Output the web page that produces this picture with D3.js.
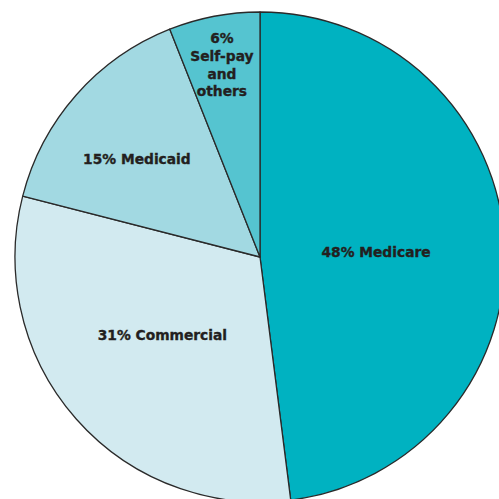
<!DOCTYPE html>
<html>
<head>
<meta charset="utf-8">
<script src="https://cdn.jsdelivr.net/npm/d3@7"></script>
<style>
  html, body { margin: 0; padding: 0; background: #ffffff; }
  svg { display: block; }
</style>
</head>
<body>
<svg id="chart" width="499" height="499"></svg>
<script>
// Payer mix, in percent
const categories = ["Medicare", "Commercial", "Medicaid", "Self-pay and others"];
const shares = [48, 31, 15, 6];
const labelLines = [
  ["48% Medicare"],
  ["31% Commercial"],
  ["15% Medicaid"],
  ["6%", "Self-pay", "and", "others"]
];

const colors = ["#00b2c1", "#d2eaf0", "#a2d9e2", "#55c4d0"];
// label placement: distance from the centre (fraction of radius) and a small angular nudge (degrees)
const labelRadius = [0.474, 0.51, 0.642, 0.80];
const labelNudge = [1.1, 2.8, -2.9, -0.4];

const cx = 260, cy = 257, radius = 245;

const svg = d3.select("#chart");
const g = svg.append("g").attr("transform", `translate(${cx},${cy})`);

const pie = d3.pie().sort(null).value(d => d.value).startAngle(0).endAngle(2 * Math.PI);
const data = categories.map((c, i) => ({ name: c, value: shares[i], lines: labelLines[i], i }));
const arcs = pie(data);

const arc = d3.arc().innerRadius(0).outerRadius(radius);

g.selectAll("path.slice")
  .data(arcs)
  .join("path")
  .attr("class", "slice")
  .attr("d", arc)
  .attr("fill", d => colors[d.data.i])
  .attr("stroke", "#2a2a2a")
  .attr("stroke-width", 1.3)
  .attr("stroke-linejoin", "round");

const lineGap = 17.8;
const labels = g.selectAll("text.label")
  .data(arcs)
  .join("text")
  .attr("class", "label")
  .attr("text-anchor", "middle")
  .attr("font-family", "'DejaVu Sans', sans-serif")
  .attr("font-weight", "bold")
  .attr("font-size", 13.8)
  .attr("fill", "#231f20")
  .attr("stroke", "#231f20")
  .attr("stroke-width", 0.35)
  .attr("transform", d => {
    const r = radius * labelRadius[d.data.i];
    const a = (d.startAngle + d.endAngle) / 2 + labelNudge[d.data.i] * Math.PI / 180;
    const x = r * Math.sin(a);
    const y = -r * Math.cos(a);
    return `translate(${x},${y})`;
  });

labels.each(function(d) {
  const n = d.data.lines.length;
  const t = d3.select(this);
  d.data.lines.forEach((line, k) => {
    t.append("tspan")
      .attr("x", 0)
      .attr("y", (k - (n - 1) / 2) * lineGap)
      .attr("dy", "0.36em")
      .text(line);
  });
});
</script>
</body>
</html>
